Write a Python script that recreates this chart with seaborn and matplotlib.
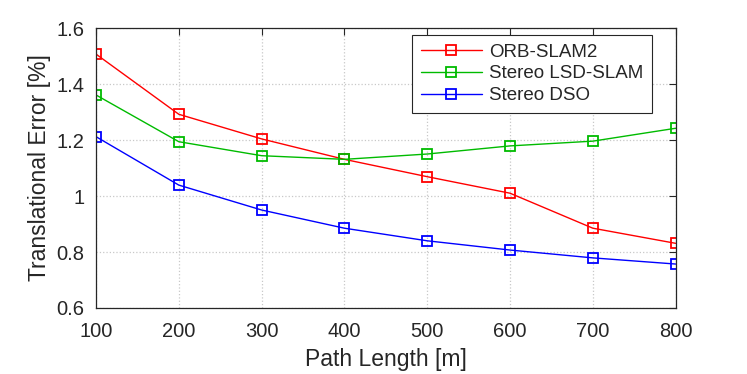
import numpy as np
import pandas as pd
import matplotlib
matplotlib.use("Agg")
import matplotlib.pyplot as plt
import seaborn as sns

# valores
path_length = [100, 200, 300, 400, 500, 600, 700, 800]
orb_slam2 = [1.507, 1.292, 1.204, 1.131, 1.069, 1.010, 0.885, 0.831]
lsd_slam = [1.361, 1.194, 1.144, 1.131, 1.150, 1.179, 1.196, 1.242]
stereo_dso = [1.212, 1.039, 0.950, 0.885, 0.840, 0.807, 0.779, 0.757]
method_names = ["ORB-SLAM2", "Stereo LSD-SLAM", "Stereo DSO"]
colores = ["#ff0000", "#00bb00", "#0000ff"]

df = pd.DataFrame({
    "Path Length [m]": path_length * 3,
    "error": orb_slam2 + lsd_slam + stereo_dso,
    "metodo": np.repeat(method_names, len(path_length)),
})

sns.set_style("white")
plt.rcParams["font.family"] = ["Liberation Sans", "DejaVu Sans"]

fig = plt.figure(figsize=(7.47, 3.74), dpi=100)
ax = fig.add_axes([0.1285, 0.1765, 0.776, 0.7485])

sns.lineplot(data=df, x="Path Length [m]", y="error", hue="metodo",
             palette=colores, marker="s", markersize=7.5, markerfacecolor="none",
             markeredgewidth=1.3, linewidth=1.0, ax=ax)
for ln, c in zip(ax.lines, colores):
    ln.set_markeredgecolor(c)

ax.set_xlim(100, 800)
ax.set_ylim(0.6, 1.6)
ax.set_xticks(path_length)
ax.set_yticks([0.6, 0.8, 1.0, 1.2, 1.4, 1.6])
ax.set_yticklabels(["0.6", "0.8", "1", "1.2", "1.4", "1.6"])
ax.grid(True, linestyle=":", color="#c8c8c8", linewidth=0.9)
ax.tick_params(direction="in", top=True, right=True, length=5, width=0.8,
               labelsize=14.5, colors="#262626")
ax.tick_params(axis="x", pad=10)
ax.tick_params(axis="y", pad=8.5)
for s in ax.spines.values():
    s.set_color("#262626")
    s.set_linewidth(0.9)

ax.set_xlabel("Path Length [m]", fontsize=16.5, color="#262626", labelpad=5)
ax.set_ylabel("Translational Error [%]", fontsize=16.5, color="#262626", labelpad=4)

leg = ax.legend(loc="upper right", bbox_to_anchor=(0.9586, 0.975), fontsize=13.5,
                fancybox=False, framealpha=1, edgecolor="#262626",
                borderaxespad=0, handlelength=3.3, borderpad=0.45,
                labelspacing=0.25, handletextpad=0.35)
leg.get_frame().set_linewidth(0.8)
for h, c in zip(leg.legend_handles, colores):
    h.set_markeredgecolor(c)
    h.set_markerfacecolor("none")

fig.savefig("out.png", dpi=100)
